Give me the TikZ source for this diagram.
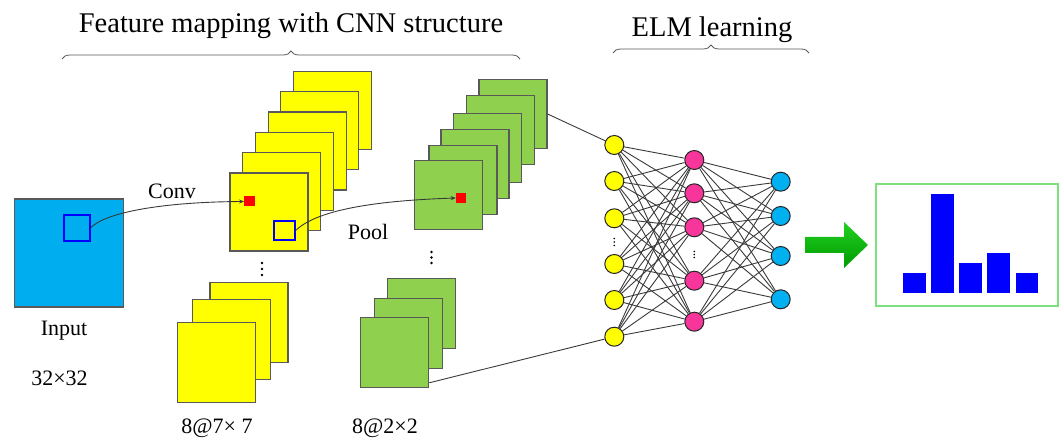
\documentclass[tikz,border=0pt]{standalone}
\usepackage{fontspec}
\setmainfont{Liberation Serif}
\usetikzlibrary{decorations.pathreplacing,arrows.meta}
\definecolor{edgegray}{HTML}{595959}
\definecolor{linegray}{HTML}{3A3A3A}
\definecolor{ycol}{HTML}{FFFF00}
\definecolor{gcol}{HTML}{8FD14F}
\definecolor{incol}{HTML}{00AEEF}
\definecolor{pcol}{HTML}{F7359A}
\definecolor{ocol}{HTML}{00B0F0}
\definecolor{boxgreen}{HTML}{7CE07C}
\definecolor{arrowlight}{HTML}{22D022}
\definecolor{arrowdark}{HTML}{009A00}
\begin{document}
\begin{tikzpicture}[x=1pt,y=-1pt,
  sqbase/.style={draw=edgegray, line width=1.2pt, inner sep=0pt},
  ysq/.style={sqbase, fill=ycol, minimum width=78pt, minimum height=78pt},
  ylsq/.style={sqbase, fill=ycol, minimum width=78pt, minimum height=80pt},
  gsq/.style={sqbase, fill=gcol, minimum width=68pt, minimum height=69pt},
  glsq/.style={sqbase, fill=gcol, minimum width=68pt, minimum height=70pt},
  insq/.style={sqbase, fill=incol, minimum width=109pt, minimum height=108pt},
  redsq/.style={fill=red, inner sep=0pt, minimum width=10.5pt, minimum height=10pt},
  winbox/.style={draw=blue, line width=1.1pt, inner sep=0pt},
  neuron/.style={circle, draw=black!85, line width=1pt, inner sep=0pt, minimum size=19pt},
  yneuron/.style={neuron, fill=ycol},
  pneuron/.style={neuron, fill=pcol},
  oneuron/.style={neuron, fill=ocol},
  conn/.style={draw=linegray, line width=0.9pt},
  lbl/.style={anchor=base, font=\fontsize{22}{26}\selectfont},
  ttl/.style={anchor=base, font=\fontsize{28.5}{34}\selectfont},
  bracestyle/.style={draw=black!65, line width=0.8pt, decorate, decoration={brace, amplitude=8pt}},
  vdot/.style={fill=black}
]
\useasboundingbox (0,0) rectangle (1063,438);

% titles and braces
\node[ttl] (title) at (291,33) {Feature mapping with CNN structure};
\node[ttl] (elmtitle) at (712,37) {ELM learning};
\draw[bracestyle] (62,59) -- (520,59);
\draw[bracestyle] (613,53) -- (809,53);

% input
\node[insq] (in) at (69,253) {};
\node[winbox, minimum width=26pt, minimum height=26pt] (inbox) at (77,228) {};
\node[lbl] (tin) at (64,336) {Input};
\node[lbl] (tsize) at (59.5,385) {32×32};

% upper yellow stack
\foreach \i/\x/\y in {6/332.5/110.5, 5/319.8/130.8, 4/307.1/151.1, 3/294.4/171.4, 2/281.7/191.7, 1/269/212}
  \node[ysq] (y\i) at (\x,\y) {};
\node[redsq] (yred) at (249.5,201.5) {};
\node[winbox, minimum width=21pt, minimum height=19pt] (ybox) at (284.5,230.5) {};
\node[lbl] (tconv) at (172,199) {Conv};

% lower yellow stack
\node[ylsq] (yl3) at (249,322.5) {};
\node[ylsq] (yl2) at (231.3,339.5) {};
\node[ylsq] (yl1) at (216.3,362.5) {};
\node[lbl] (t87) at (217,433) {8@7× 7};
\fill[vdot] (262,263) circle (1.3) (262,269) circle (1.3) (262,275) circle (1.3);

% upper green stack
\foreach \i/\x/\y in {6/513/114, 5/500.5/130, 4/487.2/148, 3/475/164, 2/462.9/180, 1/448.3/195}
  \node[gsq] (g\i) at (\x,\y) {};
\node[redsq, minimum width=10pt] (gred) at (461,198) {};
\node[lbl] (tpool) at (368,240) {Pool};

% lower green stack
\node[glsq] (gl3) at (421.8,313.2) {};
\node[glsq] (gl2) at (408.2,333.6) {};
\node[glsq] (gl1) at (394.6,352.2) {};
\node[lbl] (t82) at (385,433) {8@2×2};
\fill[vdot] (431.5,252) circle (1.3) (431.5,257.5) circle (1.3) (431.5,263) circle (1.3);

% arrows between maps
\draw[conn, -{Stealth[length=5pt,width=4pt]}] (inbox.east) .. controls (104,213) and (160,202) .. (yred.west);
\draw[conn, -{Stealth[length=5pt,width=4pt]}] (ybox.east) .. controls (315,212) and (365,201) .. (gred.west);

% ELM network
\foreach \i/\y in {1/145, 2/181, 3/218.3, 4/264, 5/300, 6/336.7}
  \node[yneuron] (a\i) at (614.3,\y) {};
\foreach \j/\y in {1/160, 2/193.3, 3/227.3, 4/280.7, 5/321.7}
  \node[pneuron] (h\j) at (694.3,\y) {};
\foreach \k/\y in {1/181.7, 2/216, 3/256, 4/299.3}
  \node[oneuron] (o\k) at (780.7,\y) {};
\foreach \i in {1,...,6}
  \foreach \j in {1,...,5}
    \draw[conn] (a\i) -- (h\j);
\foreach \j in {1,...,5}
  \foreach \k in {1,...,4}
    \draw[conn] (h\j) -- (o\k);
\fill[vdot] (614.3,238.5) circle (0.9) (614.3,242) circle (0.9) (614.3,245.5) circle (0.9);
\fill[vdot] (694.3,251.5) circle (0.9) (694.3,254.5) circle (0.9) (694.3,257.5) circle (0.9);

% inputs to ELM
\draw[conn] (g6.east) -- (a1);
\draw[conn] ([yshift=5pt]gl1.south east) -- (a6);

% green arrow
\shade[top color=arrowlight, bottom color=arrowdark]
  (805,237) -- (844,237) -- (844,222) -- (868,245) -- (844,268) -- (844,253) -- (805,253) -- cycle;

% histogram
\node[draw=boxgreen, line width=1.3pt, minimum width=182pt, minimum height=122pt, inner sep=0pt] (hist) at (967,245) {};
\fill[blue] (902.7,273.3) rectangle (925.7,293.3);
\fill[blue] (931,194.3) rectangle (954,293.3);
\fill[blue] (959,263.3) rectangle (982,293.3);
\fill[blue] (987.3,253.3) rectangle (1010,293.3);
\fill[blue] (1015.7,273.3) rectangle (1038.3,293.3);
\end{tikzpicture}
\end{document}
